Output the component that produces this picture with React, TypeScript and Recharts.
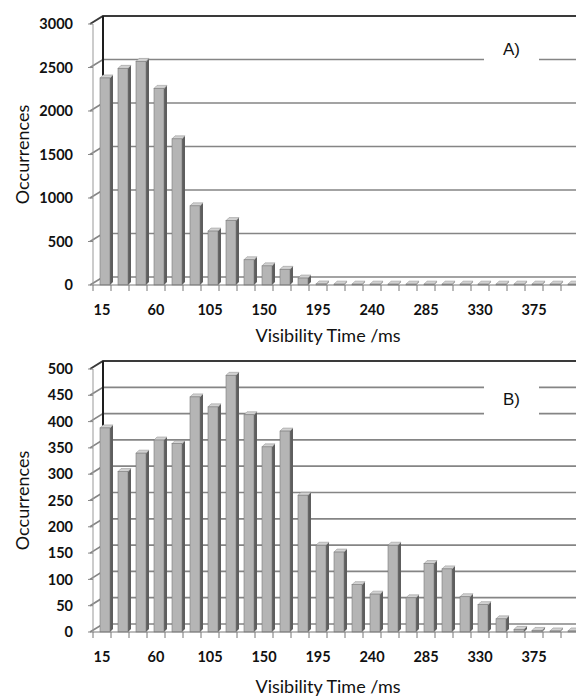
import { BarChart, Bar, XAxis, YAxis, CartesianGrid } from 'recharts';

// visibility time bins (ms)
const visibilityMs = [15, 30, 45, 60, 75, 90, 105, 120, 135, 150, 165, 180, 195, 210, 225, 240, 255, 270, 285, 300, 315, 330, 345, 360, 375, 390, 405];

// panel A occurrences
const occurrencesA = [2380, 2490, 2570, 2260, 1680, 910, 620, 740, 290, 220, 180, 80, 12, 10, 10, 10, 10, 10, 10, 10, 10, 10, 10, 10, 10, 10, 10];

// panel B occurrences
const occurrencesB = [388, 305, 340, 365, 358, 447, 428, 488, 413, 352, 382, 260, 165, 152, 90, 72, 165, 65, 130, 120, 67, 52, 25, 5, 3, 2, 2];

const ticksA = [0, 500, 1000, 1500, 2000, 2500, 3000];
const ticksB = [0, 50, 100, 150, 200, 250, 300, 350, 400, 450, 500];

const dataA = visibilityMs.map((ms, i) => ({ ms, count: occurrencesA[i] }));
const dataB = visibilityMs.map((ms, i) => ({ ms, count: occurrencesB[i] }));

const DX = 10;
const DY = 8;
const FONT = 'Lato, "Open Sans", sans-serif';

// back wall gridlines with the little diagonal on the side wall
const wallLine = (props: any) => {
  const { x1, y1, x2, index, x, y, height } = props;
  const isTop = Math.abs(y1 - y) < 0.5;
  return (
    <g key={`wall-${index}-${y1}`}>
      <polyline
        points={`${x1 - 3},${y1} ${x1 + DX},${y1 - DY} ${x2 + 20},${y1 - DY}`}
        fill="none"
        stroke={isTop ? '#3a3a3a' : '#858585'}
        strokeWidth={isTop ? 2 : 1.7}
      />
      {isTop && (
        <line x1={x + DX} y1={y - DY} x2={x + DX} y2={y + height - DY} stroke="#1e1e1e" strokeWidth={2} />
      )}
    </g>
  );
};

const Bar3D = (props: any) => {
  const { x, y, width, height } = props;
  if (x == null || y == null) return null;
  const fx = x + 3;
  const d = 3;
  const bottom = y + height;
  return (
    <g>
      <polygon
        points={`${fx + width},${y} ${fx + width + d},${y - d} ${fx + width + d},${bottom - d} ${fx + width},${bottom}`}
        fill="#5e5e5e"
      />
      <polygon
        points={`${fx},${y} ${fx + d},${y - d} ${fx + width + d},${y - d} ${fx + width},${y}`}
        fill="#d2d2d2"
        stroke="#8a8a8a"
        strokeWidth={0.5}
      />
      <rect x={fx} y={y} width={width} height={Math.max(height, 0)} fill="#b5b5b5" stroke="#7a7a7a" strokeWidth={0.6} />
    </g>
  );
};

const XTick = (props: any) => {
  const { x, y, payload, index } = props;
  return (
    <g>
      <line x1={x - 9} y1={y} x2={x - 9} y2={y + 6} stroke="#777" strokeWidth={1} />
      {index % 3 === 0 && (
        <text x={x} y={y + 25} dy="0.35em" textAnchor="middle" fontFamily={FONT} fontWeight={700} fontSize={14.5} fill="#111">
          {payload.value}
        </text>
      )}
    </g>
  );
};

const Panel = ({ data, ticks, max, height, axisHeight, titleOffset }: any) => (
  <BarChart width={580} height={height} data={data} margin={{ top: 24, right: 1, bottom: 0, left: 0 }} barSize={10}>
    <CartesianGrid horizontal={wallLine} vertical={false} />
    <XAxis
      dataKey="ms"
      interval={0}
      height={axisHeight}
      tick={XTick}
      tickLine={false}
      tickSize={0}
      tickMargin={0}
      axisLine={{ stroke: '#7a7a7a', strokeWidth: 1.2 }}
      label={{ value: 'Visibility Time /ms', position: 'insideBottom', offset: titleOffset, dx: -8, style: { fontFamily: FONT, fontSize: 18, fill: '#111' } }}
    />
    <YAxis
      width={93}
      domain={[0, max]}
      ticks={ticks}
      interval={0}
      tickSize={5}
      tickMargin={15}
      tickLine={{ stroke: '#888' }}
      axisLine={{ stroke: '#999', strokeWidth: 1 }}
      tick={{ fontFamily: FONT, fontWeight: 700, fontSize: 14.5, fill: '#111' }}
      label={{ value: 'Occurrences', angle: -90, position: 'insideLeft', offset: 23, style: { fontFamily: FONT, fontSize: 18, fill: '#111', textAnchor: 'middle' } }}
    />
    <Bar dataKey="count" shape={Bar3D} isAnimationActive={false} />
  </BarChart>
);

const tagStyle: any = {
  position: 'absolute',
  left: 484,
  width: 55,
  background: '#fff',
  textAlign: 'center',
  fontFamily: '"Liberation Sans", Arial, sans-serif',
  fontSize: 17,
  color: '#111',
};

export default function App() {
  return (
    <div style={{ position: 'absolute', left: 0, top: 0, width: 576, height: 697, overflow: 'hidden', background: '#fff' }}>
      <div style={{ position: 'absolute', left: 0, top: 0 }}>
        <Panel data={dataA} ticks={ticksA} max={3000} height={345} axisHeight={60} titleOffset={3} />
      </div>
      <div style={{ position: 'absolute', left: 0, top: 345 }}>
        <Panel data={dataB} ticks={ticksB} max={500} height={352} axisHeight={65} titleOffset={4} />
      </div>
      <div style={{ ...tagStyle, top: 38, height: 24, lineHeight: '24px' }}>A)</div>
      <div style={{ ...tagStyle, top: 383, height: 34, lineHeight: '34px' }}>B)</div>
    </div>
  );
}
